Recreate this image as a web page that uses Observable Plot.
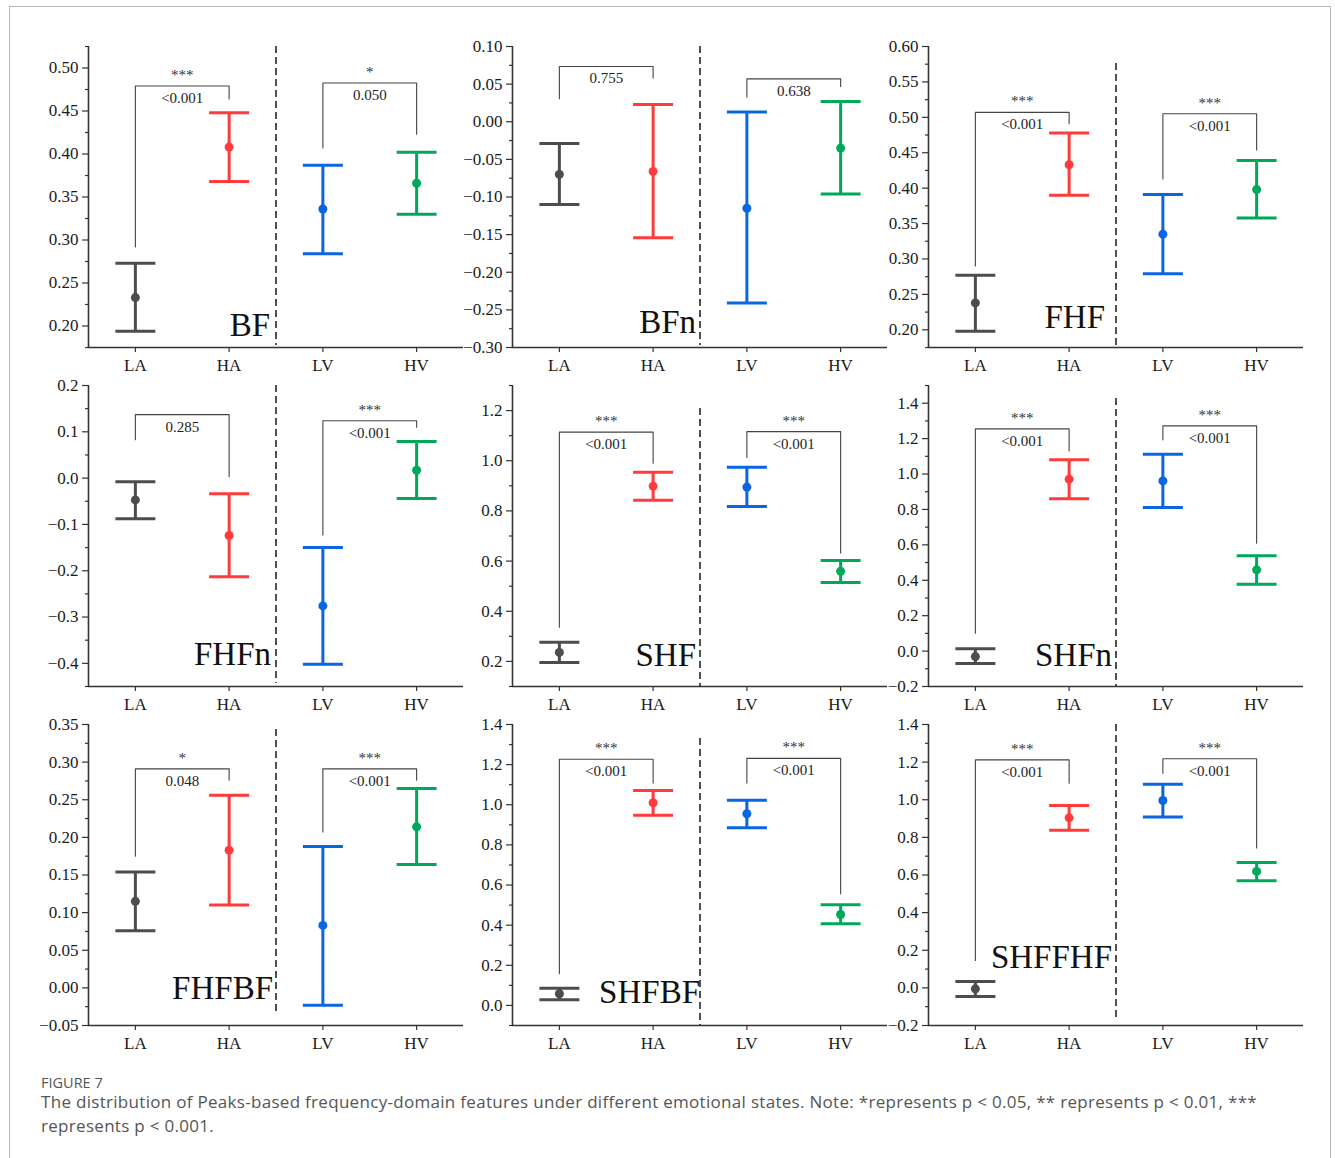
<!DOCTYPE html>
<html>
<head>
<meta charset="utf-8">
<script src="https://cdn.jsdelivr.net/npm/d3@7"></script>
<script src="https://cdn.jsdelivr.net/npm/@observablehq/plot@0.6"></script>
<style>
  body { margin: 0; background: #fff; }
  #fig { position: relative; width: 1335px; height: 1158px; overflow: hidden; background: #fff; }
  #frame { position: absolute; left: 9px; top: 6px; width: 1322px; height: 1200px; border: 1px solid #b8b8b8; box-sizing: border-box; }
  .panel { position: absolute; }
  .panel svg text { font-family: 'Liberation Serif', 'Times New Roman', serif; }
  #capTitle { position: absolute; left: 41px; top: 1075px; font: 14.5px/15px "Open Sans", sans-serif; color: #555; }
  #capText { position: absolute; left: 41px; top: 1090px; width: 1280px; font: 17px/24px "Open Sans", sans-serif; letter-spacing: 0.3px; color: #555; }
</style>
</head>
<body>
<div id="fig">
  <div id="frame"></div>
  <div id="capTitle">FIGURE 7</div>
  <div id="capText">The distribution of Peaks-based frequency-domain features under different emotional states. Note: *represents p &lt; 0.05, ** represents p &lt; 0.01, ***<br>represents p &lt; 0.001.</div>
</div>
<script>
// ---------------- DATA ----------------
const panelNames = ["BF", "BFn", "FHF", "FHFn", "SHF", "SHFn", "FHFBF", "SHFBF", "SHFFHF"];
const categories = ["LA", "HA", "LV", "HV"];
const groupColors = ["#4d4d4d", "#ff3b3b", "#0a66e0", "#00a85a"];

const means = [
  [0.233, 0.408, 0.336, 0.366],
  [-0.070, -0.066, -0.115, -0.035],
  [0.238, 0.433, 0.335, 0.398],
  [-0.047, -0.124, -0.276, 0.017],
  [0.236, 0.899, 0.895, 0.559],
  [-0.031, 0.971, 0.961, 0.459],
  [0.115, 0.183, 0.083, 0.214],
  [0.058, 1.010, 0.955, 0.453],
  [-0.005, 0.904, 0.996, 0.619]
];
const upper = [
  [0.273, 0.448, 0.387, 0.402],
  [-0.029, 0.023, 0.013, 0.027],
  [0.277, 0.478, 0.391, 0.439],
  [-0.008, -0.034, -0.150, 0.079],
  [0.276, 0.954, 0.974, 0.602],
  [0.013, 1.080, 1.112, 0.538],
  [0.154, 0.256, 0.188, 0.265],
  [0.086, 1.071, 1.023, 0.502],
  [0.034, 0.970, 1.083, 0.667]
];
const lower = [
  [0.194, 0.368, 0.284, 0.330],
  [-0.110, -0.154, -0.241, -0.096],
  [0.198, 0.390, 0.279, 0.358],
  [-0.088, -0.213, -0.402, -0.044],
  [0.196, 0.843, 0.818, 0.515],
  [-0.070, 0.860, 0.811, 0.378],
  [0.076, 0.110, -0.023, 0.164],
  [0.028, 0.948, 0.885, 0.407],
  [-0.046, 0.838, 0.908, 0.569]
];

const yDomains = [
  [0.175, 0.525], [-0.30, 0.10], [0.175, 0.60],
  [-0.45, 0.2], [0.1, 1.3], [-0.2, 1.5],
  [-0.05, 0.35], [-0.1, 1.4], [-0.2, 1.4]
];
const yTickLabels = [
  ["0.20", "0.25", "0.30", "0.35", "0.40", "0.45", "0.50"],
  ["−0.30", "−0.25", "−0.20", "−0.15", "−0.10", "−0.05", "0.00", "0.05", "0.10"],
  ["0.20", "0.25", "0.30", "0.35", "0.40", "0.45", "0.50", "0.55", "0.60"],
  ["−0.4", "−0.3", "−0.2", "−0.1", "0.0", "0.1", "0.2"],
  ["0.2", "0.4", "0.6", "0.8", "1.0", "1.2"],
  ["−0.2", "0.0", "0.2", "0.4", "0.6", "0.8", "1.0", "1.2", "1.4"],
  ["−0.05", "0.00", "0.05", "0.10", "0.15", "0.20", "0.25", "0.30", "0.35"],
  ["0.0", "0.2", "0.4", "0.6", "0.8", "1.0", "1.2", "1.4"],
  ["−0.2", "0.0", "0.2", "0.4", "0.6", "0.8", "1.0", "1.2", "1.4"]
];

// comparison pairs: LA vs HA, LV vs HV
const pairs = [[0, 1], [2, 3]];
const pValues = [
  ["<0.001", "0.050"], ["0.755", "0.638"], ["<0.001", "<0.001"],
  ["0.285", "<0.001"], ["<0.001", "<0.001"], ["<0.001", "<0.001"],
  ["0.048", "<0.001"], ["<0.001", "<0.001"], ["<0.001", "<0.001"]
];
const stars = [
  ["***", "*"], ["", ""], ["***", "***"],
  ["", "***"], ["***", "***"], ["***", "***"],
  ["*", "***"], ["***", "***"], ["***", "***"]
];
const bracketTop = [
  [0.479, 0.4825], [0.0735, 0.057], [0.507, 0.505],
  [0.137, 0.124], [1.114, 1.116], [1.255, 1.272],
  [0.291, 0.291], [1.227, 1.231], [1.212, 1.218]
];
const bracketLegEnds = [
  [[0.292, 0.464], [0.407, 0.423]],
  [[0.0305, 0.058], [0.033, 0.047]],
  [[0.290, 0.491], [0.413, 0.454]],
  [[0.083, 0.003], [-0.123, 0.110]],
  [[0.336, 0.990], [1.013, 0.632]],
  [[0.101, 1.131], [1.193, 0.609]],
  [[0.175, 0.276], [0.207, 0.276]],
  [[0.158, 1.108], [1.108, 0.556]],
  [[0.146, 1.088], [1.141, 0.744]]
];

// ---------------- LAYOUT (pixels / styling only) ----------------
const colAxisX = [88, 512, 928];
const rowAxisTop = [46, 385, 724];
const frameW = 375, frameH = 301;
const mL = 60, mR = 5, mT = 6, mB = 40;
const serif = "'Liberation Serif', 'Times New Roman', serif";
// [dash inset top, dash inset bottom, label dx, label offset from bottom]
const panelLayout = [
  [0, 2, -6, 12], [0, 2, -4, 15], [17, 0, -11, 20],
  [0, 3, -5, 22], [23, 0, -4, 21], [13, 0, -4, 21],
  [5, 13, -3, 27], [14, 0, 0, 23], [0, 5, -4, 58]
];

const capSymbol = {
  draw(ctx, size) {
    const r = Math.sqrt(size / Math.PI);
    ctx.moveTo(-r, 0);
    ctx.lineTo(r, 0);
  }
};

const fig = document.getElementById("fig");
const toNum = s => +s.replace("−", "-");

panelNames.forEach((name, p) => {
  const rows = categories.map((c, i) => ({
    cat: c, x: i + 0.5, m: means[p][i], hi: upper[p][i], lo: lower[p][i], color: groupColors[i]
  }));
  const majors = yTickLabels[p].map(toNum);
  const labelMap = new Map(majors.map((v, i) => [v, yTickLabels[p][i]]));
  const step = majors[1] - majors[0];
  const [d0, d1] = yDomains[p];
  const minors = [];
  for (let k = -40; k <= 40; k++) {
    const v = majors[0] + (k + 0.5) * step;
    if (v >= d0 - 1e-9 && v <= d1 + 1e-9) minors.push(+v.toFixed(6));
  }
  const brackets = pairs.map(([a, b], k) => [
    {x: a + 0.5, y: bracketLegEnds[p][k][0]},
    {x: a + 0.5, y: bracketTop[p][k]},
    {x: b + 0.5, y: bracketTop[p][k]},
    {x: b + 0.5, y: bracketLegEnds[p][k][1]}
  ]);
  const notes = pairs.map(([a, b], k) => ({
    x: (a + b) / 2 + 0.5, y: bracketTop[p][k], p: pValues[p][k], s: stars[p][k]
  }));
  const L = panelLayout[p];
  const mid = categories.length / 2;

  const chart = Plot.plot({
    width: mL + frameW + mR,
    height: mT + frameH + mB,
    marginLeft: mL, marginRight: mR, marginTop: mT, marginBottom: mB,
    x: {domain: [0, categories.length]},
    y: {domain: yDomains[p]},
    color: {type: "identity"},
    style: {fontFamily: serif, fontSize: "16px",
            background: "transparent", overflow: "visible", color: "#222"},
    marks: [
      Plot.axisY(minors, {tickSize: 3, tickFormat: () => "", label: null, strokeWidth: 1.2, stroke: "#333"}),
      Plot.axisY(majors, {tickSize: 6, tickPadding: 4, tickFormat: d => labelMap.get(d), label: null,
                          fontSize: 17, fontFamily: serif, fontVariant: "normal", strokeWidth: 1.2, stroke: "#333", fill: "#1a1a1a"}),
      Plot.axisX(rows.map(d => d.x), {tickSize: 5, tickPadding: 6, tickFormat: d => categories[Math.floor(d)],
                          label: null, fontSize: 17, fontFamily: serif, strokeWidth: 1.2, stroke: "#333", fill: "#1a1a1a"}),
      Plot.ruleX([0], {stroke: "#333", strokeWidth: 1.6}),
      Plot.ruleY([d0], {stroke: "#333", strokeWidth: 1.6}),
      Plot.ruleX([mid], {stroke: "#333", strokeWidth: 1.7, strokeDasharray: "7,4",
                         insetTop: L[0], insetBottom: L[1]}),
      ...brackets.map(b => Plot.line(b, {x: "x", y: "y", stroke: "#444", strokeWidth: 1.1})),
      Plot.text(notes, {x: "x", y: "y", text: "s", lineAnchor: "bottom", dy: -6, fontSize: 15, fontFamily: serif, fill: "#333"}),
      Plot.text(notes, {x: "x", y: "y", text: "p", lineAnchor: "bottom", dy: 17, fontSize: 15, fontFamily: serif, fill: "#222"}),
      Plot.text([{x: mid, label: name}], {x: "x", text: "label", frameAnchor: "bottom", textAnchor: "end",
                 lineAnchor: "bottom", dx: L[2], dy: -L[3], fontSize: 33, fontFamily: serif, fill: "#111"}),
      Plot.ruleX(rows, {x: "x", y1: "lo", y2: "hi", stroke: "color", strokeWidth: 3}),
      Plot.dot(rows, {x: "x", y: "hi", symbol: capSymbol, r: 20, stroke: "color", strokeWidth: 3, fill: "none"}),
      Plot.dot(rows, {x: "x", y: "lo", symbol: capSymbol, r: 20, stroke: "color", strokeWidth: 3, fill: "none"}),
      Plot.dot(rows, {x: "x", y: "m", r: 4.5, fill: "color", stroke: "none"})
    ]
  });
  const col = p % 3, row = Math.floor(p / 3);
  const wrap = document.createElement("div");
  wrap.className = "panel";
  wrap.style.left = (colAxisX[col] - mL) + "px";
  wrap.style.top = (rowAxisTop[row] - mT) + "px";
  wrap.appendChild(chart);
  fig.appendChild(wrap);
});
</script>
</body>
</html>
